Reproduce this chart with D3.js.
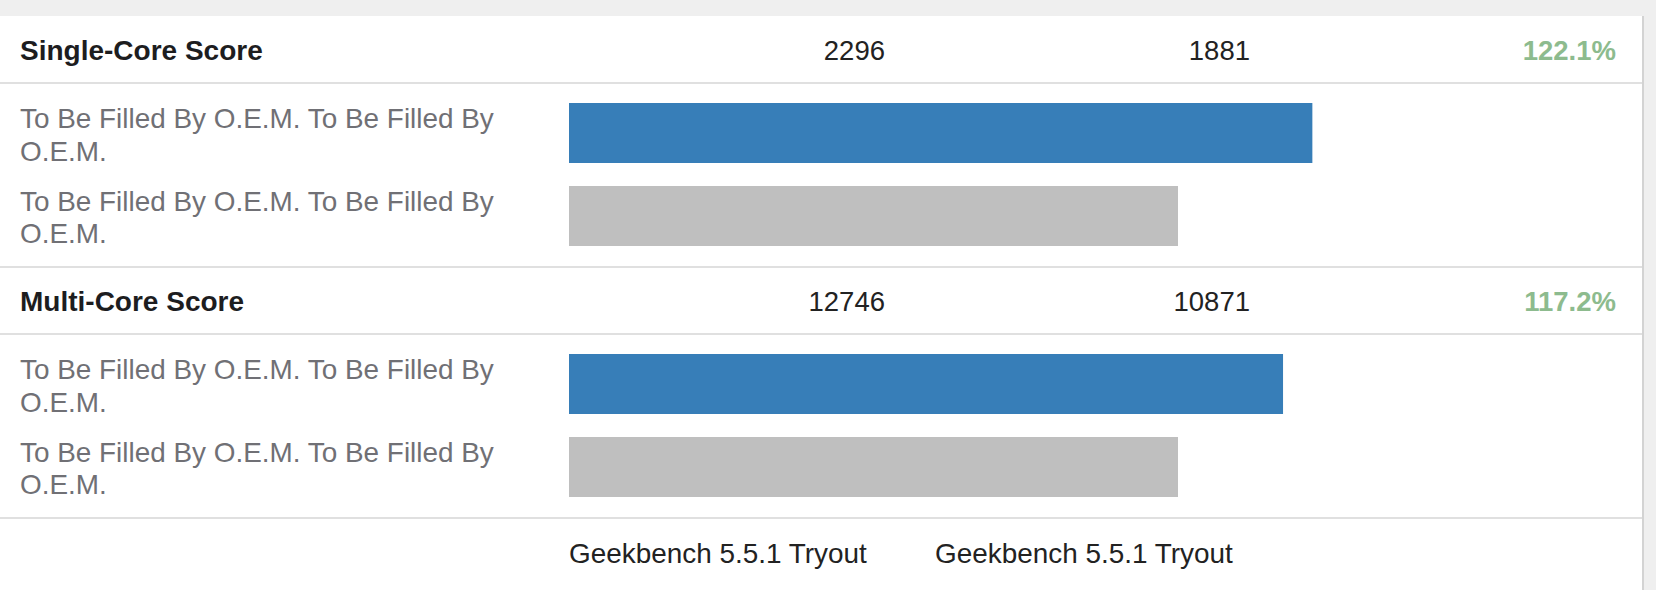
<!DOCTYPE html>
<html>
<head>
<meta charset="utf-8">
<script src="https://cdn.jsdelivr.net/npm/d3@7/dist/d3.min.js"></script>
<style>
  html, body { margin: 0; padding: 0; background: #efefef; }
  svg { display: block; }
  text { font-family: "Liberation Sans", Arial, Helvetica, sans-serif; }
</style>
</head>
<body>
<svg id="chart" width="1656" height="590"></svg>
<script>
// ---- data ----
const sections = ["Single-Core Score", "Multi-Core Score"];
const scoresA = [2296, 12746];          // first system (blue)
const scoresB = [1881, 10871];          // second system (grey, baseline)
const ratioLabels = ["122.1%", "117.2%"];
const systemNames = [
  "To Be Filled By O.E.M. To Be Filled By O.E.M.",
  "To Be Filled By O.E.M. To Be Filled By O.E.M."
];
const versions = ["Geekbench 5.5.1 Tryout", "Geekbench 5.5.1 Tryout"];
const seriesColors = ["#377eb8", "#bfbfbf"];

// ---- layout ----
const W = 1656, H = 590;
const panelTop = 16, panelRight = 1642;
const headerH = 67, rowsH = 184;
const barX = 569, baseBarW = 609;
const numCols = [885, 1250];
const ratioX = 1616;
const labelX = 20;

const svg = d3.select("#chart");

svg.append("rect").attr("x", 0).attr("y", panelTop)
  .attr("width", panelRight).attr("height", H - panelTop).attr("fill", "#ffffff");
svg.append("line").attr("x1", panelRight + 1).attr("x2", panelRight + 1)
  .attr("y1", panelTop).attr("y2", H).attr("stroke", "#d3d3d3").attr("stroke-width", 2);

const sectionY = d3.scaleLinear().domain([0, 1]).range([panelTop, panelTop + headerH + rowsH]);
const barBand = d3.scaleBand().domain([0, 1]).range([0, 143]).paddingInner(0.2771).paddingOuter(0);

function wrap(textSel, width) {
  textSel.each(function () {
    const t = d3.select(this);
    const words = t.text().split(/\s+/);
    const x = t.attr("x"), y = t.attr("y");
    t.text(null);
    let line = [];
    let lineNo = 0;
    let tspan = t.append("tspan").attr("x", x).attr("y", y);
    for (const w of words) {
      line.push(w);
      tspan.text(line.join(" "));
      if (tspan.node().getComputedTextLength() > width && line.length > 1) {
        line.pop();
        tspan.text(line.join(" "));
        line = [w];
        lineNo++;
        tspan = t.append("tspan").attr("x", x).attr("y", +y + lineNo * 32.5).text(w);
      }
    }
  });
}

function sep(y) {
  svg.append("line").attr("x1", 0).attr("x2", panelRight)
    .attr("y1", y).attr("y2", y).attr("stroke", "#e0e0e0").attr("stroke-width", 2);
}

sections.forEach((name, i) => {
  const top = sectionY(i);
  const sepY = top + headerH;
  const g = svg.append("g");

  // header row
  g.append("text").attr("x", labelX).attr("y", top + 43.5)
    .attr("font-size", 28).attr("font-weight", "bold").attr("fill", "#1d1d1f").text(name);
  [scoresA[i], scoresB[i]].forEach((v, j) => {
    g.append("text").attr("x", numCols[j]).attr("y", top + 43.5)
      .attr("text-anchor", "end").attr("font-size", 27.5).attr("fill", "#222")
      .text(v);
  });
  g.append("text").attr("x", ratioX).attr("y", top + 43.5)
    .attr("text-anchor", "end").attr("font-size", 27.5).attr("font-weight", "bold")
    .attr("fill", "#8dbb8e").text(ratioLabels[i]);

  sep(sepY);

  // bars — scaled relative to the baseline system
  const x = d3.scaleLinear().domain([0, scoresB[i]]).range([0, baseBarW]);
  const vals = [scoresA[i], scoresB[i]];
  const rowsTop = sepY + 20;
  g.selectAll("rect.bar").data(vals).join("rect")
    .attr("class", "bar")
    .attr("x", barX)
    .attr("y", (d, j) => rowsTop + barBand(j))
    .attr("width", d => x(d))
    .attr("height", barBand.bandwidth())
    .attr("fill", (d, j) => seriesColors[j]);

  g.selectAll("text.sys").data(systemNames).join("text")
    .attr("class", "sys")
    .attr("x", labelX)
    .attr("y", (d, j) => rowsTop + barBand(j) + 25)
    .attr("font-size", 27.9).attr("fill", "#707075")
    .text(d => d)
    .call(wrap, 520);

  sep(sepY + rowsH);
});

// footer: versions
svg.selectAll("text.ver").data(versions).join("text")
  .attr("class", "ver")
  .attr("x", (d, j) => [569, 935][j])
  .attr("y", 562.5)
  .attr("font-size", 27.9).attr("fill", "#222")
  .text(d => d);
</script>
</body>
</html>
